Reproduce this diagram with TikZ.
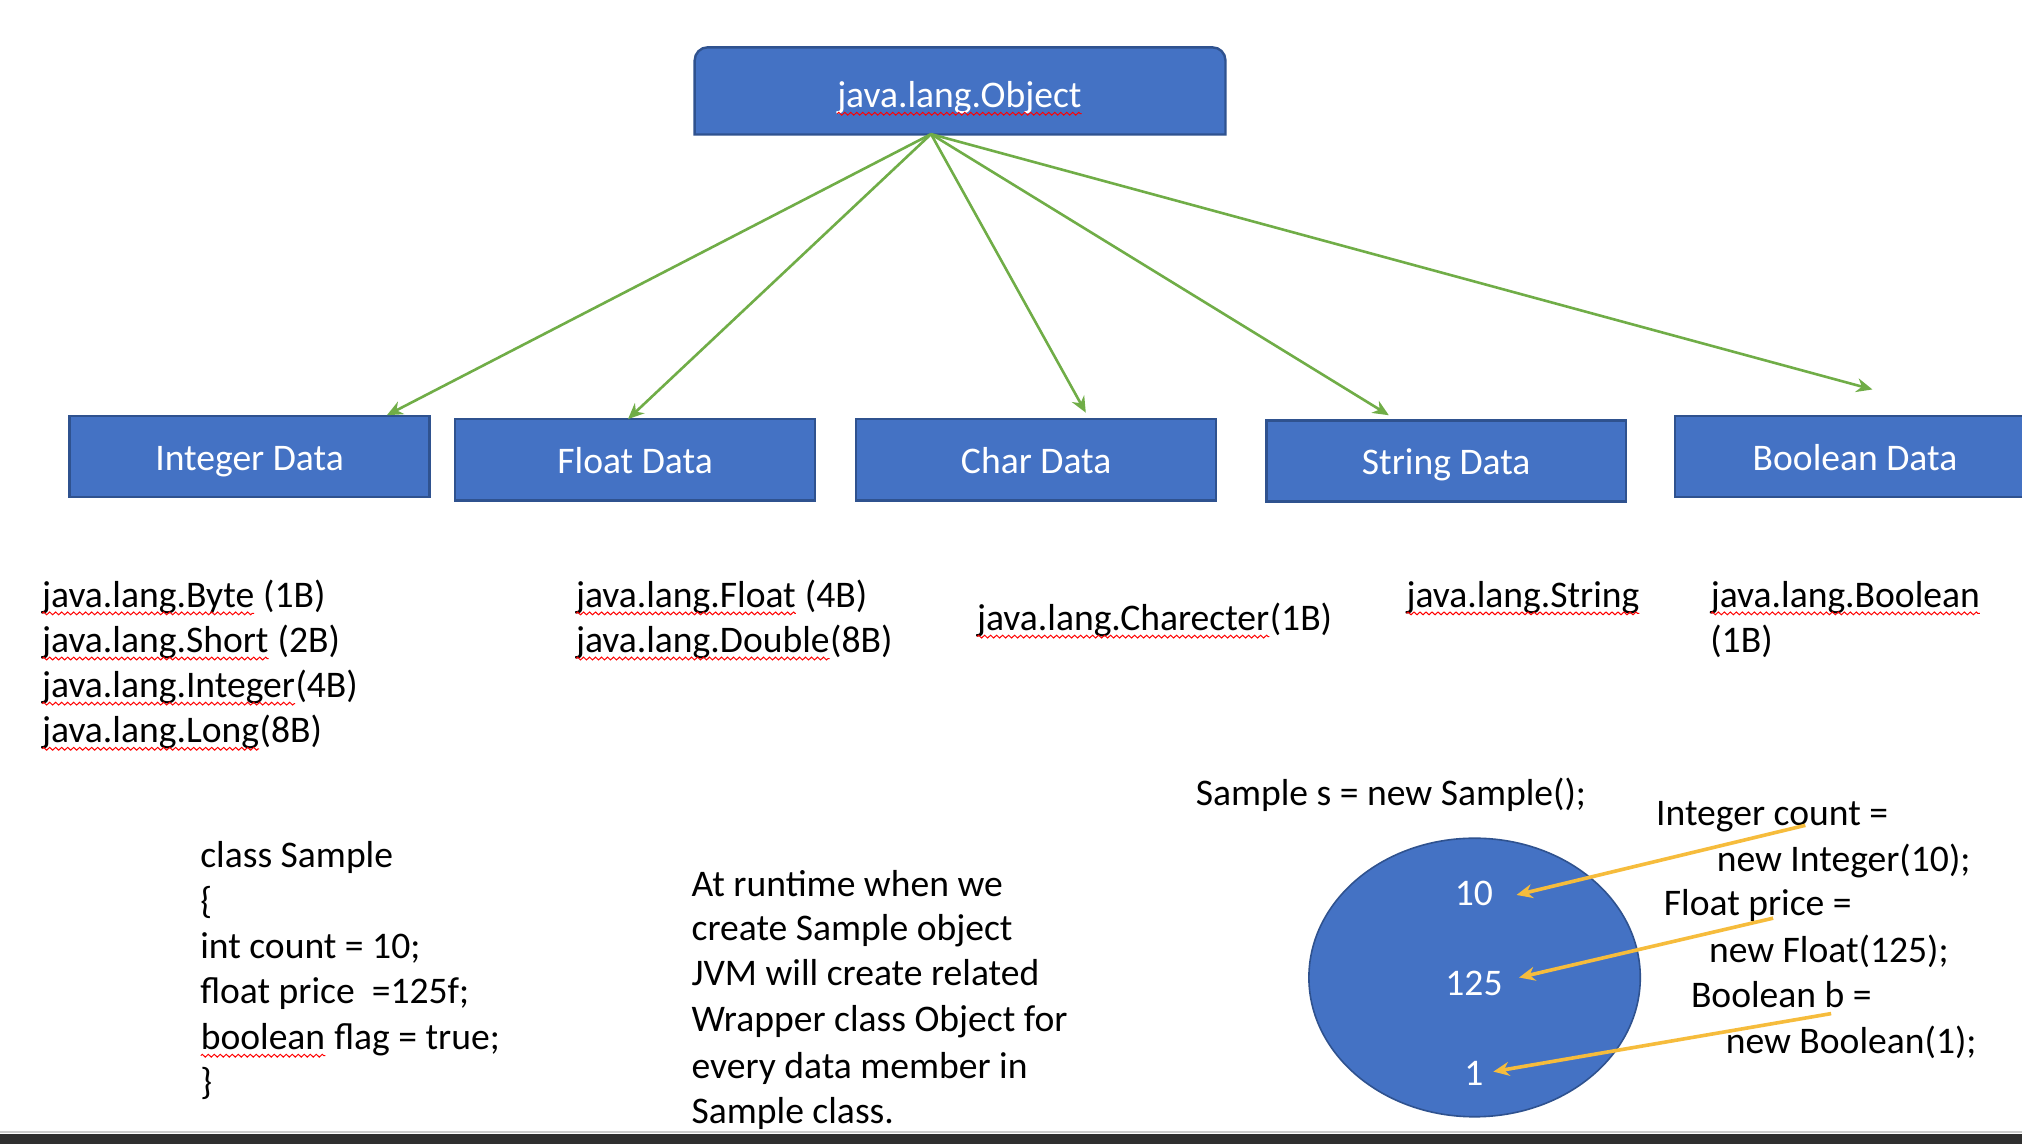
\documentclass[tikz,border=0pt]{standalone}
\usepackage{fontspec}
\setmainfont{Carlito}
\usetikzlibrary{arrows.meta,shapes.geometric,decorations.pathmorphing}
\definecolor{boxblue}{HTML}{4472C4}
\definecolor{boxedge}{HTML}{2F528F}
\definecolor{arrgreen}{HTML}{70AD47}
\definecolor{arrgold}{HTML}{F6BC3C}
\definecolor{barcol}{HTML}{2F2F2F}
\newcommand\sq[1]{\tikz[baseline=(sqa.base)]{\node[inner sep=0pt,outer sep=0pt,anchor=base west] (sqa) at (0,0) {#1};\draw[red,line width=0.5pt,decorate,decoration={zigzag,segment length=3pt,amplitude=0.7pt}] ([yshift=-3pt]sqa.base west) -- ([yshift=-3pt]sqa.base east);}}
\begin{document}
\begin{tikzpicture}[x=0.6448pt,y=-0.6448pt,
  mainfont/.style={font=\fontsize{18.8}{22.6}\selectfont},
  blk/.style={mainfont,fill=boxblue,draw=boxedge,line width=1.2pt,text=white,minimum width=179.9pt,minimum height=40.6pt,text height=1.36em,text depth=0pt,inner sep=0pt},
  txt/.style={mainfont,anchor=base west,inner sep=0pt},
  num/.style={mainfont,text=white,inner sep=0pt,text height=1.3em,text depth=0pt},
  garrow/.style={arrgreen,line width=1.3pt,-{Stealth[length=8pt,width=7pt]}},
  oarrow/.style={arrgold,line width=1.8pt,-{Stealth[length=8pt,width=7pt]}}]
\clip (0,0) rectangle (1568,887);
\fill[white] (0,0) rectangle (1568,887);
% bottom bar
\fill[barcol] (0,879) rectangle (1568,887);
\draw[gray!40,line width=1pt] (0,878) -- (1568,878);

% top object box
\node[minimum width=265pt,minimum height=43.2pt,inner sep=0pt] (obj) at (744.5,70.5) {};
\draw[fill=boxblue,draw=boxedge,line width=1.2pt] (obj.south west) -- ([yshift=-6.5pt]obj.north west) arc[start angle=180,end angle=90,radius=6.5pt] -- ([xshift=-6.5pt]obj.north east) arc[start angle=90,end angle=0,radius=6.5pt] -- (obj.south east) -- cycle;
\node[mainfont,text=white,inner sep=0pt,text height=1.36em,text depth=0pt] (objt) at (744,73) {\sq{java.lang.Object}};

% category boxes
\node[blk] (int) at (193.5,354) {Integer Data};
\node[blk] (flt) at (492.5,356.5) {Float Data};
\node[blk] (chr) at (803.5,356.5) {Char Data};
\node[blk] (str) at (1121.5,357.5) {String Data};
\node[blk] (boo) at (1438.5,354) {Boolean Data};

% arrow ends
\coordinate (src) at (722,104);
\coordinate (eI) at (300,322);
\coordinate (eF) at (487,325);
\coordinate (eC) at (842,320);
\coordinate (eS) at (1077,322);
\coordinate (eB) at (1452,302);
\draw[garrow] (src) -- (eI);
\draw[garrow] (src) -- (eF);
\draw[garrow] (src) -- (eC);
\draw[garrow] (src) -- (eS);
\draw[garrow] (src) -- (eB);

% lists
\node[txt] (ib1) at (32,471) {\sq{java.lang.Byte} (1B)};
\node[txt] (ib2) at (32,506) {\sq{java.lang.Short} (2B)};
\node[txt] (ib3) at (32,541) {\sq{java.lang.Integer}(4B)};
\node[txt] (ib4) at (32,576) {\sq{java.lang.Long}(8B)};
\node[txt] (fl1) at (446,471) {\sq{java.lang.Float} (4B)};
\node[txt] (fl2) at (446,506) {\sq{java.lang.Double}(8B)};
\node[txt] (ch1) at (757,489) {\sq{java.lang.Charecter}(1B)};
\node[txt] (st1) at (1090,471) {\sq{java.lang.String}};
\node[txt] (bo1) at (1326,471) {\sq{java.lang.Boolean}};
\node[txt] (bo2) at (1326,506) {(1B)};

% class sample
\node[txt] (cs1) at (155,673) {class Sample};
\node[txt] (cs2) at (155,708) {\{};
\node[txt] (cs3) at (155,743) {int count = 10;};
\node[txt] (cs4) at (155,778) {float price\ \ =125f;};
\node[txt] (cs5) at (155,814) {\sq{boolean} flag = true;};
\node[txt] (cs6) at (155,849) {\}};

% explanation
\node[txt] (ex1) at (536,695) {At runtime when we};
\node[txt] (ex2) at (536,729) {create Sample object};
\node[txt] (ex3) at (536,764) {JVM will create related};
\node[txt] (ex4) at (536,800) {Wrapper class Object for};
\node[txt] (ex5) at (536,836) {every data member in};
\node[txt] (ex6) at (536,871) {Sample class.};

% heap
\node[txt] (ss) at (927,625) {Sample s = new Sample();};
\node[ellipse,fill=boxblue,draw=boxedge,line width=0.8pt,minimum width=165.7pt,minimum height=139.3pt,inner sep=0pt] (heap) at (1143.5,758) {};
\node[num] (n10) at (1143,692) {10};
\node[num] (n125) at (1143,762) {125};
\node[num] (n1) at (1143,832) {1};

\node[txt] (ic1) at (1284,640) {Integer count =};
\node[txt] (ic2) at (1331,676) {new Integer(10);};
\node[txt] (fp1) at (1290,710) {Float price =};
\node[txt] (fp2) at (1325,746) {new Float(125);};
\node[txt] (bb1) at (1311,781) {Boolean b =};
\node[txt] (bb2) at (1338,817) {new Boolean(1);};

\coordinate (o1s) at (1400,640);
\coordinate (o1e) at (1176,694);
\coordinate (o2s) at (1375,712);
\coordinate (o2e) at (1178,758);
\coordinate (o3s) at (1420,786);
\coordinate (o3e) at (1158,831);
\draw[oarrow] (o1s) -- (o1e);
\draw[oarrow] (o2s) -- (o2e);
\draw[oarrow] (o3s) -- (o3e);
\end{tikzpicture}
\end{document}
